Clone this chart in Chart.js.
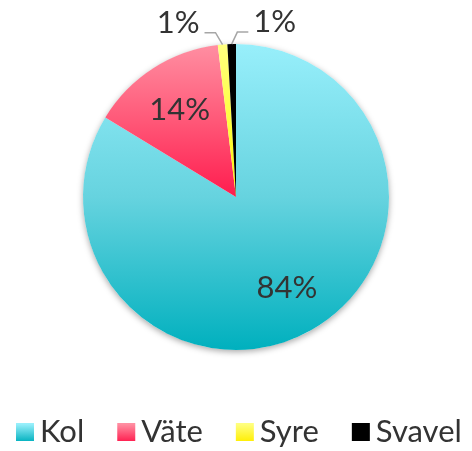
<!DOCTYPE html>
<html lang="sv">
  <head>
    <meta charset="utf-8" />
    <title>Kol, Väte, Syre, Svavel</title>
    <style>
      * {
        margin: 0;
        padding: 0;
      }
      body {
        background: #fff;
      }
      .chartBox {
        width: 472px;
        height: 451px;
      }
    </style>
  </head>
  <body>
    <div class="chartBox">
      <canvas id="myChart"></canvas>
    </div>
    <script src="https://cdn.jsdelivr.net/npm/chart.js"></script>
    <script>
      // data
      const labels = ['Kol', 'Väte', 'Syre', 'Svavel'];
      const values = [83.7, 14.4, 1.0, 0.9];

      // colours (top of gradient / middle / bottom)
      const lightColors = ['#98effb', '#ff8fa2', '#ffff80', '#000000'];
      const midColors = ['#66d3df', '#ff5878', '#ffff40', '#000000'];
      const darkColors = ['#00b0be', '#ff1c4e', '#ffee00', '#000000'];

      const fontFamily = 'Lato, "Open Sans", sans-serif';
      const textColor = '#333333';

      // big slice: gradient over the whole pie, small ones: top half only
      const sliceGradient = (context) => {
        const chart = context.chart;
        const i = context.dataIndex;
        const area = chart.chartArea;
        if (!area) return darkColors[i];
        const cy = (area.top + area.bottom) / 2;
        const r = Math.min(area.right - area.left, area.bottom - area.top) / 2;
        const bottom = i === 0 ? cy + r : cy;
        const g = chart.ctx.createLinearGradient(0, cy - r, 0, bottom);
        g.addColorStop(0, lightColors[i]);
        g.addColorStop(0.5, midColors[i]);
        g.addColorStop(1, darkColors[i]);
        return g;
      };

      // soft shadow under the pie
      const pieShadow = {
        id: 'pieShadow',
        beforeDatasetsDraw(chart) {
          const arc = chart.getDatasetMeta(0).data[0];
          if (!arc) return;
          const { x, y, outerRadius } = arc.getProps(['x', 'y', 'outerRadius'], true);
          const ctx = chart.ctx;
          ctx.save();
          ctx.shadowColor = 'rgba(0, 0, 0, 0.35)';
          ctx.shadowBlur = 6;
          ctx.shadowOffsetY = 2;
          ctx.fillStyle = '#fff';
          ctx.beginPath();
          ctx.arc(x, y, outerRadius, 0, Math.PI * 2);
          ctx.fill();
          ctx.restore();
        },
      };

      // percent labels, small slices get a leader line
      const percentLabels = {
        id: 'percentLabels',
        afterDatasetsDraw(chart) {
          const ctx = chart.ctx;
          const data = chart.data.datasets[0].data;
          const total = data.reduce((a, b) => a + b, 0);
          const small = [];
          ctx.save();
          ctx.font = '31px ' + fontFamily;
          ctx.fillStyle = textColor;
          chart.getDatasetMeta(0).data.forEach((arc, i) => {
            const p = arc.getProps(['x', 'y', 'startAngle', 'endAngle', 'outerRadius'], true);
            const pct = Math.round((data[i] / total) * 100);
            const mid = (p.startAngle + p.endAngle) / 2;
            if (pct >= 5) {
              ctx.textAlign = 'center';
              ctx.textBaseline = 'middle';
              const rr = p.outerRadius * 0.68;
              ctx.fillText(pct + '%', p.x + Math.cos(mid) * rr, p.y + Math.sin(mid) * rr);
            } else {
              small.push({ ...p, mid, pct });
            }
          });
          ctx.strokeStyle = '#a6a6a6';
          ctx.lineWidth = 1.5;
          ctx.textBaseline = 'alphabetic';
          small.forEach((s, k) => {
            const side = k < small.length / 2 ? -1 : 1;
            const px = s.x + Math.cos(s.mid) * s.outerRadius;
            const py = s.y + Math.sin(s.mid) * s.outerRadius;
            const ex = s.x + Math.cos(s.mid) * (s.outerRadius + 12) + side * 6;
            const ey = s.y + Math.sin(s.mid) * (s.outerRadius + 12);
            const hx = ex + side * 11;
            ctx.beginPath();
            ctx.moveTo(px, py);
            ctx.lineTo(ex, ey);
            ctx.lineTo(hx, ey);
            ctx.stroke();
            ctx.textAlign = side < 0 ? 'right' : 'left';
            ctx.fillText(s.pct + '%', hx + side * 5, ey);
          });
          ctx.restore();
        },
      };

      // legend with gradient boxes
      const gradientLegend = {
        id: 'gradientLegend',
        afterDraw(chart) {
          const ctx = chart.ctx;
          const baseline = chart.height - 9;
          const box = 18;
          let x = 16;
          ctx.save();
          ctx.font = '31px ' + fontFamily;
          ctx.textAlign = 'left';
          ctx.textBaseline = 'alphabetic';
          chart.data.labels.forEach((label, i) => {
            const g = ctx.createLinearGradient(0, baseline - box, 0, baseline);
            g.addColorStop(0, lightColors[i]);
            g.addColorStop(1, darkColors[i]);
            ctx.fillStyle = g;
            ctx.fillRect(x, baseline - box - 1, box, box);
            ctx.fillStyle = textColor;
            ctx.fillText(label, x + box + 6, baseline);
            x += box + 6 + ctx.measureText(label).width + 33;
          });
          ctx.restore();
        },
      };

      // config
      const config = {
        type: 'pie',
        data: {
          labels,
          datasets: [
            {
              data: values,
              backgroundColor: sliceGradient,
              borderWidth: 0,
              hoverOffset: 0,
            },
          ],
        },
        options: {
          responsive: true,
          maintainAspectRatio: false,
          animation: false,
          layout: {
            padding: { top: 44, bottom: 101, left: 0, right: 0 },
          },
          plugins: {
            legend: { display: false },
            tooltip: { enabled: false },
          },
        },
        plugins: [pieShadow, percentLabels, gradientLegend],
      };

      const myChart = new Chart(document.getElementById('myChart'), config);
    </script>
  </body>
</html>
